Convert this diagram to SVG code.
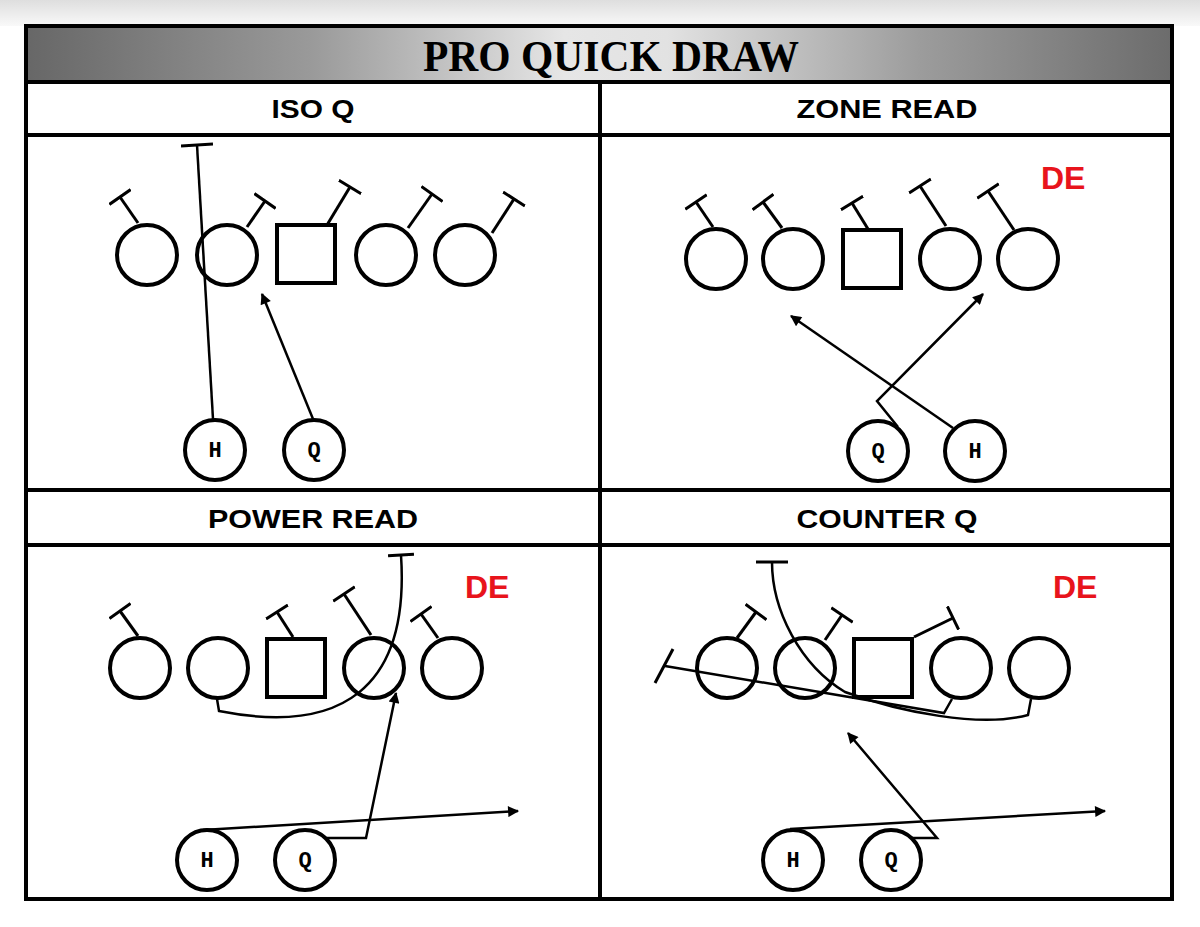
<svg xmlns="http://www.w3.org/2000/svg" width="1200" height="927" viewBox="0 0 1200 927">
<defs>
<linearGradient id="topbg" x1="0" y1="0" x2="0" y2="1"><stop offset="0" stop-color="#dedede"/><stop offset="1" stop-color="#f9f9f9"/></linearGradient>
<linearGradient id="band" x1="0" y1="0" x2="1" y2="0"><stop offset="0" stop-color="#676767"/><stop offset="0.25" stop-color="#9a9a9a"/><stop offset="0.47" stop-color="#e6e6e6"/><stop offset="0.56" stop-color="#e2e2e2"/><stop offset="0.78" stop-color="#9c9c9c"/><stop offset="1" stop-color="#6c6c6c"/></linearGradient>
<marker id="ah" viewBox="0 0 10 10" refX="9" refY="5" markerWidth="14" markerHeight="11" markerUnits="userSpaceOnUse" orient="auto"><path d="M0,0 L10,5 L0,10 z" fill="#000"/></marker>
<marker id="tee" viewBox="0 0 4 26" refX="2" refY="13" markerWidth="4" markerHeight="26" markerUnits="userSpaceOnUse" orient="auto"><path d="M2,0 L2,26" stroke="#000" stroke-width="3"/></marker>
<marker id="teeL" viewBox="0 0 4 32" refX="2" refY="16" markerWidth="4" markerHeight="32" markerUnits="userSpaceOnUse" orient="auto"><path d="M2,0 L2,32" stroke="#000" stroke-width="3"/></marker>
</defs>
<style>
.pl{fill:#fff;stroke:#000;stroke-width:4}
.blk{fill:none;stroke:#000;stroke-width:3;marker-end:url(#tee)}
.rt{fill:none;stroke:#000;stroke-width:2.5}
.arr{marker-end:url(#ah)}
.lbl{font-family:"Liberation Mono","Courier New",monospace;font-weight:bold;font-size:22px;text-anchor:middle}
.hdr{font-family:"Liberation Sans",Arial,sans-serif;font-weight:bold;font-size:25px;text-anchor:middle}
.de{font-family:"Liberation Sans",Arial,sans-serif;font-weight:bold;font-size:32px;fill:#e8141c}
.grid{fill:none;stroke:#000;stroke-width:4}
</style>
<rect x="0" y="0" width="1200" height="927" fill="#fff"/>
<rect x="0" y="0" width="1200" height="26" fill="url(#topbg)"/>
<g id="frame">
<rect x="26" y="26" width="1146" height="56" fill="url(#band)"/>
<rect x="26" y="26" width="1146" height="873" class="grid"/>
<line x1="26" y1="82" x2="1172" y2="82" class="grid"/>
<line x1="26" y1="135" x2="1172" y2="135" class="grid"/>
<line x1="26" y1="490" x2="1172" y2="490" class="grid"/>
<line x1="26" y1="545" x2="1172" y2="545" class="grid"/>
<line x1="600" y1="82" x2="600" y2="899" class="grid"/>
</g>
<text id="title" x="611" y="71" font-family="'Liberation Serif','Times New Roman',serif" font-weight="bold" font-size="44" text-anchor="middle" textLength="376" lengthAdjust="spacingAndGlyphs">PRO QUICK DRAW</text>
<g id="headers">
<text class="hdr" x="313" y="118" textLength="83" lengthAdjust="spacingAndGlyphs">ISO Q</text>
<text class="hdr" x="887" y="118" textLength="181" lengthAdjust="spacingAndGlyphs">ZONE READ</text>
<text class="hdr" x="313" y="528" textLength="210" lengthAdjust="spacingAndGlyphs">POWER READ</text>
<text class="hdr" x="887" y="528" textLength="181" lengthAdjust="spacingAndGlyphs">COUNTER Q</text>
</g>

<!-- ISO Q -->
<g id="iso-q">
<g id="iso-line">
<circle class="pl" cx="147" cy="255" r="30"/>
<circle class="pl" cx="227" cy="255" r="30"/>
<rect class="pl" x="277" y="225" width="58" height="58"/>
<circle class="pl" cx="386" cy="255" r="30"/>
<circle class="pl" cx="465" cy="255" r="30"/>
</g>
<g id="iso-h"><circle class="pl" cx="215" cy="450" r="30"/><text class="lbl" x="215" y="457">H</text></g>
<g id="iso-qb"><circle class="pl" cx="314" cy="450" r="30"/><text class="lbl" x="314" y="457">Q</text></g>
<g id="iso-connectors">
<path class="blk" d="M138,223 L120,197"/>
<path class="blk" d="M247,227 L265,201"/>
<path class="blk" d="M327,225 L350,187"/>
<path class="blk" d="M408,228 L432,194"/>
<path class="blk" d="M492,233 L514,199"/>
<path class="rt" d="M213,419 L197,145" marker-end="url(#teeL)"/>
<path class="rt arr" d="M313,419 L262,294"/>
</g>
</g>

<!-- ZONE READ -->
<g id="zone-read">
<g id="zone-line">
<circle class="pl" cx="716" cy="259" r="30"/>
<circle class="pl" cx="793" cy="259" r="30"/>
<rect class="pl" x="843" y="230" width="58" height="58"/>
<circle class="pl" cx="950" cy="259" r="30"/>
<circle class="pl" cx="1028" cy="259" r="30"/>
</g>
<text class="de" x="1041" y="189">DE</text>
<g id="zone-q"><circle class="pl" cx="878" cy="451" r="30"/><text class="lbl" x="878" y="458">Q</text></g>
<g id="zone-h"><circle class="pl" cx="975" cy="451" r="30"/><text class="lbl" x="975" y="458">H</text></g>
<g id="zone-connectors">
<path class="blk" d="M713,227 L696,202"/>
<path class="blk" d="M782,228 L763,202"/>
<path class="blk" d="M868,229 L852,203"/>
<path class="blk" d="M946,226 L920,186"/>
<path class="blk" d="M1014,230 L988,191"/>
<path class="rt arr" d="M898,427 L877,401 L983,294"/>
<path class="rt arr" d="M953,428 L791,316"/>
</g>
</g>

<!-- POWER READ -->
<g id="power-read">
<g id="power-line">
<circle class="pl" cx="140" cy="668" r="30"/>
<circle class="pl" cx="218" cy="668" r="30"/>
<rect class="pl" x="267" y="639" width="58" height="58"/>
<circle class="pl" cx="374" cy="668" r="30"/>
<circle class="pl" cx="452" cy="668" r="30"/>
</g>
<text class="de" x="465" y="598">DE</text>
<g id="power-h"><circle class="pl" cx="207" cy="860" r="30"/><text class="lbl" x="207" y="867">H</text></g>
<g id="power-q"><circle class="pl" cx="305" cy="860" r="30"/><text class="lbl" x="305" y="867">Q</text></g>
<g id="power-connectors">
<path class="blk" d="M138,636 L120,611"/>
<path class="blk" d="M293,637 L277,612"/>
<path class="blk" d="M371,635 L344,594"/>
<path class="blk" d="M438,638 L421,614"/>
<path class="rt" d="M217,699 L219,711 C340,735 410,690 401,555" marker-end="url(#tee)"/>
<path class="rt arr" d="M203,830 L518,811"/>
<path class="rt arr" d="M327,838 L366,838 L396,693"/>
</g>
</g>

<!-- COUNTER Q -->
<g id="counter-q">
<g id="counter-line">
<circle class="pl" cx="727" cy="668" r="30"/>
<circle class="pl" cx="805" cy="668" r="30"/>
<rect class="pl" x="854" y="639" width="58" height="58"/>
<circle class="pl" cx="961" cy="668" r="30"/>
<circle class="pl" cx="1039" cy="668" r="30"/>
</g>
<text class="de" x="1053" y="598">DE</text>
<g id="counter-h"><circle class="pl" cx="793" cy="860" r="30"/><text class="lbl" x="793" y="867">H</text></g>
<g id="counter-qb"><circle class="pl" cx="891" cy="860" r="30"/><text class="lbl" x="891" y="867">Q</text></g>
<g id="counter-connectors">
<path class="blk" d="M737,638 L756,612"/>
<path class="blk" d="M825,640 L842,615"/>
<path class="blk" d="M914,637 L953,618"/>
<path class="rt" d="M952,699 L944,713 L665,666"/>
<line x1="655" y1="683" x2="673" y2="649" stroke="#000" stroke-width="3"/>
<path class="rt" d="M1031,699 L1028,715 C980,728 900,712 845,692 C800,665 772,610 772,562" marker-end="url(#teeL)"/>
<path class="rt arr" d="M790,829 L1105,811"/>
<path class="rt arr" d="M912,838 L937,838 L848,733"/>
</g>
</g>
</svg>
